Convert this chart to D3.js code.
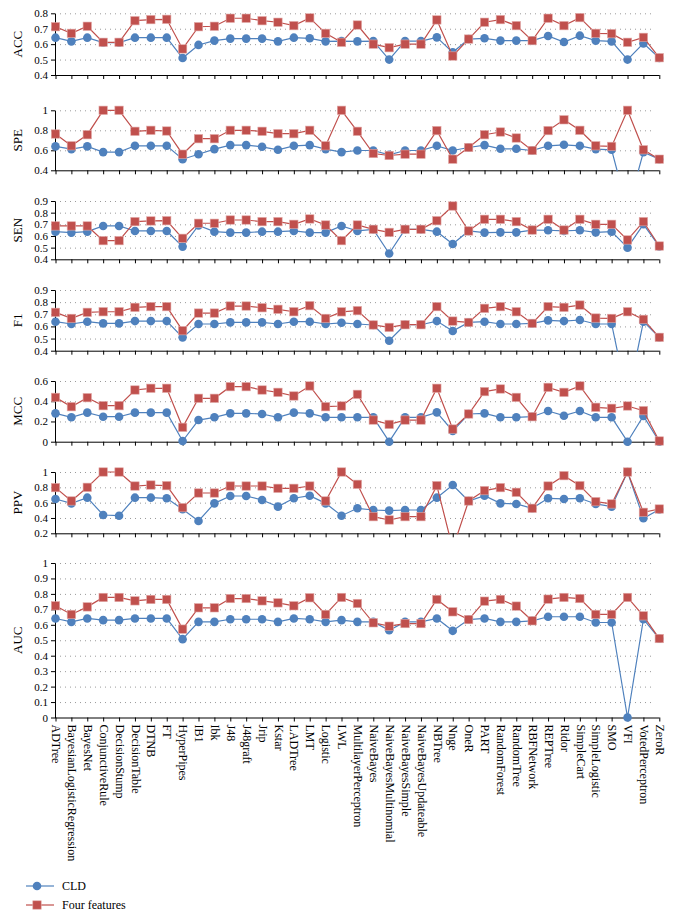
<!DOCTYPE html>
<html>
<head>
<meta charset="utf-8">
<script src="https://cdn.jsdelivr.net/npm/d3@7"></script>
<style>
  body { margin: 0; background: #fff; }
  svg { font-family: "Liberation Serif", "Times New Roman", serif; }
  .axis path, .axis line { stroke: #000; stroke-width: 1; }
  .axis text { font-size: 12px; fill: #000; font-family: "Liberation Serif", serif; }
  .yaxis text { font-size: 11px; }
  .grid line { stroke: #9a9a9a; stroke-dasharray: 1,4; }
  .grid path { display: none; }
</style>
</head>
<body>
<div id="graph"></div>
<script>
const fullWidth = 673;
const fullHeight = 917;

// classifiers on the x axis
var categories = ['ADTree', 'BayesianLogisticRegression', 'BayesNet', 'ConjunctiveRule', 'DecisionStump',
  'DecisionTable', 'DTNB', 'FT', 'HyperPipes', 'IB1', 'Ibk', 'J48', 'J48graft', 'Jrip', 'Kstar', 'LADTree',
  'LMT', 'Logistic', 'LWL', 'MultilayerPerceptron', 'NaiveBayes', 'NaiveBayesMultinomial', 'NaiveBayesSimple',
  'NaiveBayesUpdateable', 'NBTree', 'Nnge', 'OneR', 'PART', 'RandomForest', 'RandomTree', 'RBFNetwork',
  'REPTree', 'Ridor', 'SimpleCart', 'SimpleLogistic', 'SMO', 'VFI', 'VotedPerceptron', 'ZeroR'];

var seriesNames = ['CLD', 'Four features'];

// values per metric, CLD then four features
var accCLD = [0.642,0.618,0.642,0.61,0.61,0.642,0.642,0.642,0.51,0.595,0.623,0.636,0.636,0.636,0.618,0.642,0.638,0.618,0.62,0.618,0.62,0.50,0.62,0.62,0.644,0.547,0.633,0.638,0.623,0.623,0.623,0.653,0.614,0.655,0.623,0.618,0.50,0.605,0.51];
var accFour = [0.713,0.67,0.716,0.612,0.612,0.752,0.759,0.761,0.569,0.713,0.716,0.768,0.768,0.752,0.742,0.72,0.77,0.67,0.612,0.724,0.60,0.577,0.60,0.60,0.757,0.523,0.633,0.742,0.759,0.72,0.623,0.768,0.72,0.772,0.67,0.668,0.612,0.644,0.512];

var speCLD = [0.639,0.612,0.639,0.582,0.582,0.645,0.645,0.645,0.511,0.561,0.612,0.652,0.652,0.635,0.605,0.645,0.652,0.612,0.582,0.598,0.598,0.555,0.598,0.598,0.645,0.598,0.628,0.652,0.615,0.615,0.598,0.645,0.655,0.645,0.612,0.605,0,0.582,0.51];
var speFour = [0.763,0.645,0.756,1,1,0.79,0.80,0.793,0.561,0.716,0.716,0.80,0.80,0.79,0.766,0.766,0.80,0.645,1,0.79,0.568,0.548,0.561,0.561,0.797,0.511,0.628,0.756,0.783,0.723,0.598,0.797,0.905,0.80,0.645,0.639,1,0.605,0.511];

var senCLD = [0.637,0.629,0.637,0.686,0.686,0.643,0.643,0.643,0.509,0.69,0.637,0.629,0.629,0.637,0.637,0.643,0.629,0.629,0.686,0.643,0.657,0.45,0.657,0.657,0.637,0.531,0.643,0.629,0.631,0.631,0.651,0.649,0.643,0.649,0.631,0.637,0.50,0.70,0.51];
var senFour = [0.686,0.686,0.686,0.56,0.56,0.723,0.729,0.731,0.58,0.709,0.709,0.737,0.737,0.723,0.723,0.70,0.746,0.694,0.56,0.694,0.657,0.631,0.657,0.657,0.731,0.857,0.643,0.743,0.743,0.723,0.651,0.743,0.651,0.743,0.70,0.70,0.566,0.723,0.514];

var f1CLD = [0.639,0.62,0.639,0.625,0.625,0.644,0.644,0.644,0.51,0.62,0.62,0.633,0.633,0.633,0.62,0.639,0.639,0.62,0.63,0.62,0.612,0.482,0.614,0.614,0.644,0.562,0.633,0.639,0.62,0.62,0.625,0.65,0.644,0.653,0.62,0.62,0,0.639,0.51];
var f1Four = [0.716,0.666,0.716,0.721,0.721,0.757,0.763,0.763,0.565,0.71,0.71,0.768,0.768,0.754,0.741,0.721,0.771,0.666,0.72,0.73,0.612,0.592,0.614,0.614,0.763,0.644,0.633,0.749,0.763,0.721,0.625,0.763,0.757,0.776,0.669,0.666,0.721,0.658,0.51];

var mccCLD = [0.28,0.241,0.287,0.247,0.247,0.287,0.287,0.287,0.007,0.214,0.241,0.28,0.28,0.274,0.241,0.287,0.28,0.241,0.241,0.241,0.241,0,0.241,0.241,0.29,0.106,0.274,0.28,0.241,0.241,0.247,0.303,0.257,0.303,0.241,0.241,0,0.254,0];
var mccFour = [0.438,0.346,0.435,0.356,0.356,0.511,0.528,0.528,0.142,0.429,0.429,0.544,0.544,0.511,0.488,0.452,0.551,0.346,0.353,0.468,0.214,0.171,0.214,0.214,0.528,0.125,0.274,0.495,0.521,0.438,0.247,0.537,0.488,0.551,0.34,0.33,0.353,0.307,0.007];

var ppvCLD = [0.648,0.591,0.665,0.439,0.43,0.665,0.665,0.657,0.513,0.361,0.591,0.687,0.687,0.635,0.548,0.657,0.691,0.591,0.43,0.526,0.504,0.496,0.504,0.504,0.665,0.83,0.622,0.691,0.591,0.583,0.526,0.657,0.648,0.657,0.583,0.548,1,0.396,0.51];
var ppvFour = [0.796,0.622,0.80,1,1,0.817,0.83,0.822,0.535,0.726,0.726,0.817,0.817,0.817,0.787,0.787,0.817,0.622,1,0.839,0.417,0.374,0.417,0.417,0.822,0,0.622,0.757,0.796,0.735,0.526,0.817,0.952,0.822,0.613,0.583,1,0.474,0.517];

var aucCLD = [0.641,0.619,0.641,0.63,0.63,0.641,0.641,0.641,0.507,0.619,0.619,0.636,0.636,0.636,0.619,0.641,0.636,0.619,0.63,0.619,0.619,0.565,0.619,0.619,0.641,0.561,0.634,0.641,0.619,0.619,0.626,0.652,0.652,0.652,0.615,0.615,0,0.636,0.51];
var aucFour = [0.723,0.667,0.716,0.777,0.777,0.755,0.764,0.764,0.572,0.71,0.71,0.77,0.77,0.755,0.742,0.723,0.775,0.667,0.777,0.738,0.613,0.591,0.608,0.608,0.764,0.684,0.634,0.753,0.764,0.721,0.626,0.766,0.777,0.77,0.667,0.667,0.777,0.658,0.511];

// y tick labels per panel
var accTicks = [0.4, 0.5, 0.6, 0.7, 0.8];
var speTicks = [0.4, 0.6, 0.8, 1];
var senTicks = [0.4, 0.5, 0.6, 0.7, 0.8, 0.9];
var f1Ticks = [0.4, 0.5, 0.6, 0.7, 0.8, 0.9];
var mccTicks = [0, 0.2, 0.4, 0.6];
var ppvTicks = [0.2, 0.4, 0.6, 0.8, 1];
var aucTicks = [0, 0.1, 0.2, 0.3, 0.4, 0.5, 0.6, 0.7, 0.8, 0.9, 1];

var blue = '#4f81bd';
var red = '#c0504d';

// panel layout (pixel top / bottom of each plot area)
var panels = [
  { name: 'ACC', cld: accCLD, four: accFour, ticks: accTicks, top: 13.3, bottom: 75 },
  { name: 'SPE', cld: speCLD, four: speFour, ticks: speTicks, top: 110.3, bottom: 170.3 },
  { name: 'SEN', cld: senCLD, four: senFour, ticks: senTicks, top: 201, bottom: 259.3 },
  { name: 'F1', cld: f1CLD, four: f1Four, ticks: f1Ticks, top: 290, bottom: 350.7 },
  { name: 'MCC', cld: mccCLD, four: mccFour, ticks: mccTicks, top: 381, bottom: 441.7 },
  { name: 'PPV', cld: ppvCLD, four: ppvFour, ticks: ppvTicks, top: 472, bottom: 533.3 },
  { name: 'AUC', cld: aucCLD, four: aucFour, ticks: aucTicks, top: 563, bottom: 717.5 }
];

var svg = d3.select('#graph')
  .append('svg')
  .attr('width', fullWidth)
  .attr('height', fullHeight);

var x = d3.scalePoint()
  .domain(categories)
  .range([55.5, 659.3]);

var fmt = d => String(+d.toFixed(1));
var defs = svg.append('defs');

panels.forEach(function (p, k) {
  var lo = d3.min(p.ticks), hi = d3.max(p.ticks);
  var y = d3.scaleLinear().domain([lo, hi]).range([p.bottom, p.top]);
  var g = svg.append('g');

  // dotted grid
  g.append('g')
    .attr('class', 'grid')
    .attr('transform', 'translate(55,0)')
    .call(d3.axisLeft(y).tickValues(p.ticks.filter(t => t !== lo)).tickSize(-600).tickFormat(''));

  // y axis
  g.append('g')
    .attr('class', 'axis yaxis')
    .attr('transform', 'translate(55,0)')
    .call(d3.axisLeft(y).tickValues(p.ticks).tickSize(4).tickSizeOuter(0).tickPadding(3).tickFormat(fmt));

  // x axis
  var xa = g.append('g')
    .attr('class', 'axis')
    .attr('transform', 'translate(0,' + p.bottom + ')')
    .call(d3.axisBottom(x).tickSize(4).tickSizeOuter(0));
  xa.select('.domain').attr('d', 'M55,0.5H' + x.range()[1]);
  if (k < panels.length - 1) {
    xa.selectAll('text').remove();
  } else {
    xa.selectAll('text')
      .attr('transform', 'rotate(90)')
      .attr('x', 7)
      .attr('y', 0)
      .attr('dy', '0.32em')
      .style('text-anchor', 'start');
  }

  // panel title
  g.append('text')
    .attr('transform', 'translate(18,' + ((p.top + p.bottom) / 2) + ') rotate(-90)')
    .attr('text-anchor', 'middle')
    .attr('dy', '0.32em')
    .style('font-size', '13px')
    .text(p.name);

  // clip lines to the plot area
  defs.append('clipPath')
    .attr('id', 'clip' + k)
    .append('rect')
    .attr('x', 50).attr('y', p.top - 6)
    .attr('width', 620).attr('height', p.bottom - p.top + 7);

  var line = d3.line()
    .x((d, i) => x(categories[i]))
    .y(d => y(d));

  [[p.cld, blue, 'circle'], [p.four, red, 'square']].forEach(function (s) {
    var values = s[0];
    g.append('path')
      .datum(values)
      .attr('clip-path', 'url(#clip' + k + ')')
      .attr('fill', 'none')
      .attr('stroke', s[1])
      .attr('stroke-width', 1.2)
      .attr('d', line);

    var pts = values.map((v, i) => ({ v: v, c: categories[i] })).filter(d => d.v >= lo && d.v <= hi);
    if (s[2] === 'circle') {
      g.append('g').selectAll('circle')
        .data(pts)
        .enter().append('circle')
        .attr('cx', d => x(d.c))
        .attr('cy', d => y(d.v))
        .attr('r', 4.3)
        .attr('fill', s[1]);
    } else {
      g.append('g').selectAll('rect')
        .data(pts)
        .enter().append('rect')
        .attr('x', d => x(d.c) - 4.2)
        .attr('y', d => y(d.v) - 4.2)
        .attr('width', 8.4)
        .attr('height', 8.4)
        .attr('fill', s[1])
        .attr('stroke', '#e2a9a7')
        .attr('stroke-width', 0.6);
    }
  });
});

// legend
var legend = svg.append('g').attr('transform', 'translate(0,886)');
seriesNames.forEach(function (name, i) {
  var ly = i * 19;
  var col = i === 0 ? blue : red;
  legend.append('line')
    .attr('x1', 26).attr('x2', 54)
    .attr('y1', ly).attr('y2', ly)
    .attr('stroke', col).attr('stroke-width', 1.2);
  if (i === 0) {
    legend.append('circle').attr('cx', 37).attr('cy', ly).attr('r', 4.3).attr('fill', col);
  } else {
    legend.append('rect').attr('x', 32.8).attr('y', ly - 4.2).attr('width', 8.4).attr('height', 8.4)
      .attr('fill', col).attr('stroke', '#e2a9a7').attr('stroke-width', 0.6);
  }
  legend.append('text')
    .attr('x', 62).attr('y', ly)
    .attr('dy', '0.32em')
    .style('font-size', '12px')
    .text(name);
});
</script>
</body>
</html>
